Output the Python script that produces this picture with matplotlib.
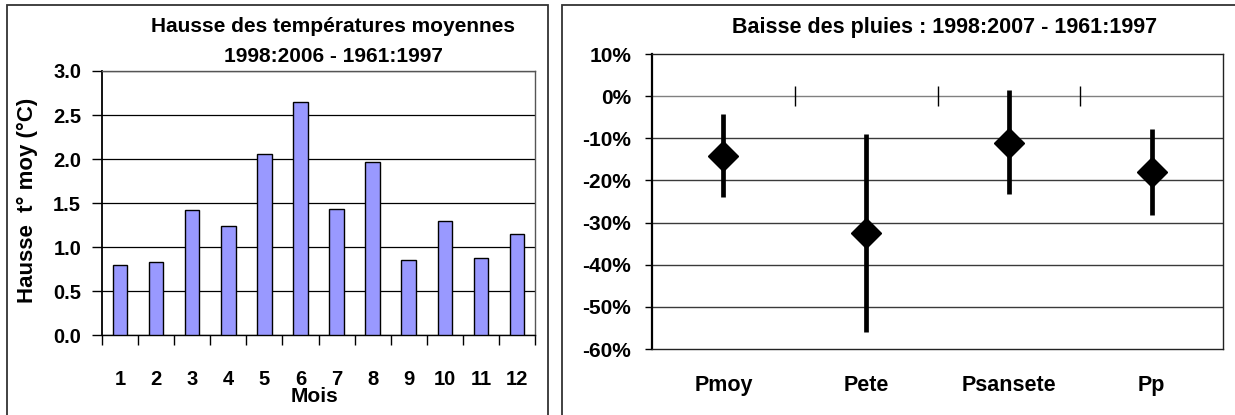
import matplotlib
matplotlib.use("Agg")
import matplotlib.pyplot as plt
from matplotlib.patches import Rectangle
import numpy as np

plt.rcParams['font.family'] = ['Liberation Sans', 'DejaVu Sans']
plt.rcParams['font.weight'] = 'bold'

months = ["1", "2", "3", "4", "5", "6", "7", "8", "9", "10", "11", "12"]
temp_rise = [0.80, 0.83, 1.42, 1.24, 2.06, 2.65, 1.43, 1.97, 0.85, 1.29, 0.88, 1.15]

rain_cats = ["Pmoy", "Pete", "Psansete", "Pp"]
rain_mid = [-0.141, -0.324, -0.111, -0.180]
rain_low = [-0.239, -0.560, -0.232, -0.281]
rain_high = [-0.043, -0.089, 0.014, -0.078]

W, H = 1235, 415
fig = plt.figure(figsize=(W / 100, H / 100), dpi=100)

def fx(px):
    return px / W

def fy(py):
    return 1 - py / H

# panel borders
fig.add_artist(Rectangle((fx(7), fy(430)), fx(548) - fx(7), fy(5) - fy(430),
                         transform=fig.transFigure, fill=False, ec='#333333', lw=1.3))
fig.add_artist(Rectangle((fx(562), fy(430)), fx(1250) - fx(562), fy(5) - fy(430),
                         transform=fig.transFigure, fill=False, ec='#333333', lw=1.3))

# ---------- left chart ----------
ax1 = fig.add_axes([fx(102), fy(335), fx(535) - fx(102), fy(71) - fy(335)])
x = np.arange(len(months))
ax1.bar(x, temp_rise, width=0.4, color='#9999FF', edgecolor='black', linewidth=1.0, zorder=3)
ax1.set_xlim(-0.5, len(months) - 0.5)
ax1.set_ylim(0, 3.0)
ax1.set_yticks(np.arange(0, 3.01, 0.5))
ax1.set_yticklabels([f"{v:.1f}" for v in np.arange(0, 3.01, 0.5)], fontsize=14.5, fontweight='bold')
ax1.yaxis.grid(True, color='black', lw=0.9, zorder=0)
ax1.set_xticks(x)
ax1.set_xticklabels(months, fontsize=14.5, fontweight='bold')
ax1.set_xticks(np.arange(-0.5, len(months), 1.0), minor=True)
ax1.tick_params(axis='x', which='major', length=0, pad=25)
ax1.tick_params(axis='x', which='minor', length=7, width=1.0, direction='out')
ax1.tick_params(axis='y', length=7, width=1.0, direction='out', pad=8)
for s in ['top', 'right']:
    ax1.spines[s].set_color('#555555')
    ax1.spines[s].set_linewidth(1.0)
ax1.spines['left'].set_linewidth(1.3)
ax1.spines['bottom'].set_linewidth(1.0)
ax1.set_xlabel("Mois", fontsize=15, fontweight='bold')
ax1.xaxis.set_label_coords(0.49, -0.232)
ax1.xaxis.label.set_va('center')
ax1.set_ylabel("Hausse  t° moy (°C)", fontsize=16, fontweight='bold')
ax1.yaxis.set_label_coords(-0.148, 0.511)
fig.text(fx(333), fy(26.5), "Hausse des températures moyennes", ha='center', va='center',
         fontsize=15, fontweight='bold')
fig.text(fx(333), fy(56), "1998:2006 - 1961:1997", ha='center', va='center',
         fontsize=15, fontweight='bold')

# ---------- right chart ----------
ax2 = fig.add_axes([fx(652), fy(349), fx(1223) - fx(652), fy(54) - fy(349)])
xc = np.arange(len(rain_cats))
ax2.set_xlim(-0.5, len(rain_cats) - 0.5)
ax2.set_ylim(-0.6, 0.1)
yt = np.arange(-0.6, 0.101, 0.1)
ax2.set_yticks(yt)
ax2.set_yticklabels([f"{round(v * 100):d}%" for v in yt], fontsize=15, fontweight='bold')
for v in yt[1:-1]:
    ax2.axhline(v, color='#808080' if abs(v) < 1e-9 else '#3a3a3a', lw=1.0, zorder=1)
mid = np.array(rain_mid)
ax2.vlines(xc, rain_low, rain_high, color='black', lw=3.4, zorder=3)
ax2.plot(xc, mid, linestyle='none', marker='D', markersize=15, color='black', zorder=4)
ax2.plot(np.arange(0.5, len(rain_cats) - 0.5, 1.0), np.zeros(len(rain_cats) - 1),
         linestyle='none', marker='|', markersize=14, mew=1.0, color='black', zorder=2)
ax2.set_xticks(xc)
ax2.set_xticklabels(rain_cats, fontsize=15.5, fontweight='bold')
ax2.tick_params(axis='x', length=0, pad=19)
ax2.tick_params(axis='y', length=5, width=1.0, direction='out', pad=10)
ax2.spines['left'].set_linewidth(1.6)
for s in ['top', 'right', 'bottom']:
    ax2.spines[s].set_linewidth(1.0)
    ax2.spines[s].set_color('#222222')
fig.text(fx(945), fy(27), "Baisse des pluies : 1998:2007 - 1961:1997", ha='center', va='center',
         fontsize=15.5, fontweight='bold')

fig.savefig("out.png", dpi=100)
